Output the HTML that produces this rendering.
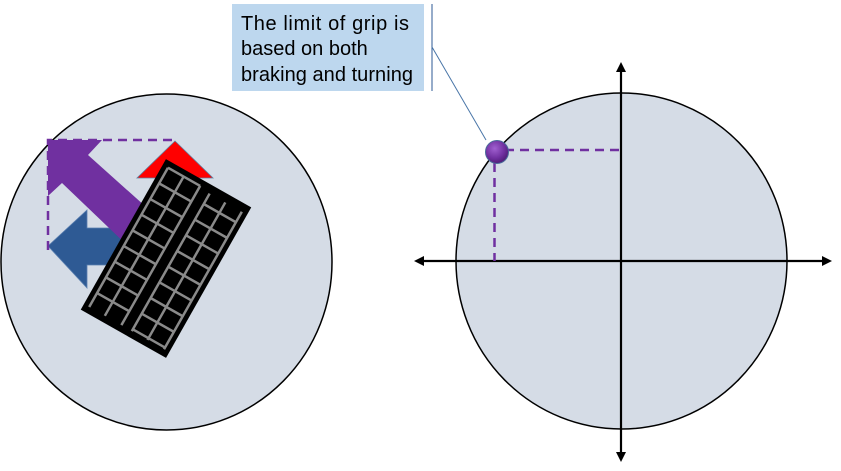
<!DOCTYPE html>
<html><head><style>html,body{margin:0;padding:0;background:#fff;width:841px;height:471px;overflow:hidden}</style></head>
<body>
<svg width="841" height="471" viewBox="0 0 841 471" xmlns="http://www.w3.org/2000/svg">
<defs>
<radialGradient id="ball" cx="0.4" cy="0.35" r="0.7"><stop offset="0" stop-color="#a060d0"/><stop offset="0.6" stop-color="#7030a0"/><stop offset="1" stop-color="#4a1a70"/></radialGradient>
</defs>
<ellipse cx="166.5" cy="262" rx="165.5" ry="168" fill="#d5dce6" stroke="#000" stroke-width="1.5"/>
<polygon points="48,246 87,210 87,228 135,228 135,265 87,265 87,288" fill="#2e5a94" stroke="#5a7fb0" stroke-width="0.8"/>
<polygon points="48,140 102,140 88,155 155,215 130,248 62,183 48,196" fill="#7030a0"/>
<polyline points="48,250 48,140 176,140" fill="none" stroke="#7030a0" stroke-width="2.5" stroke-dasharray="9,6"/>
<polygon points="137,178 213,178 175,141" fill="#ff0000" stroke="#6080a0" stroke-width="0.8"/>
<g transform="translate(166,258.5) rotate(29.5)">
<rect x="-49" y="-86.5" width="98" height="173" fill="#000"/>
<g stroke="#8a8a8a" stroke-width="2.5" fill="none">
<path d="M-43,-80V80M-25,-80V80M-6,-80V80"/>
<path d="M6,-78V80M24,-78V80M43,-78V80"/>
<path d="M-43,-80H-6M-43,-62H-6M-43,-44H-6M-43,-26H-6M-43,-8H-6M-43,10H-6M-43,28H-6M-43,46H-6M-43,64H-6"/>
<path d="M6,-66H43M6,-48H43M6,-30H43M6,-12H43M6,6H43M6,24H43M6,42H43M6,60H43M6,78H43"/>
</g>
</g>
<ellipse cx="621.5" cy="261" rx="165.5" ry="168" fill="#d5dce6" stroke="#000" stroke-width="1.5"/>
<line x1="420" y1="261" x2="826" y2="261" stroke="#000" stroke-width="2.2"/>
<polygon points="414,261 424,256 424,266" fill="#000"/>
<polygon points="832,261 822,256 822,266" fill="#000"/>
<line x1="621" y1="68" x2="621" y2="456" stroke="#000" stroke-width="2.2"/>
<polygon points="621,62 616,72 626,72" fill="#000"/>
<polygon points="621,462 616,452 626,452" fill="#000"/>
<polyline points="505,150 621,150" fill="none" stroke="#7030a0" stroke-width="2.5" stroke-dasharray="9,6"/>
<polyline points="494.5,163 494.5,261" fill="none" stroke="#7030a0" stroke-width="2.5" stroke-dasharray="9,6"/>
<rect x="232" y="4" width="192" height="87" fill="#bdd7ee"/>
<line x1="432" y1="4" x2="432" y2="91" stroke="#2e5a94" stroke-width="1"/>
<line x1="432" y1="47" x2="486" y2="140" stroke="#4a76a8" stroke-width="1"/>
<circle cx="497" cy="152" r="11.5" fill="url(#ball)" stroke="#4a6a9a" stroke-width="1"/>
<text font-family="Liberation Sans, sans-serif" font-size="20" fill="#000">
<tspan x="241" y="30" textLength="168">The limit of grip is</tspan>
<tspan x="241" y="55">based on both</tspan>
<tspan x="241" y="81" textLength="172">braking and turning</tspan>
</text>
</svg>
</body></html>
